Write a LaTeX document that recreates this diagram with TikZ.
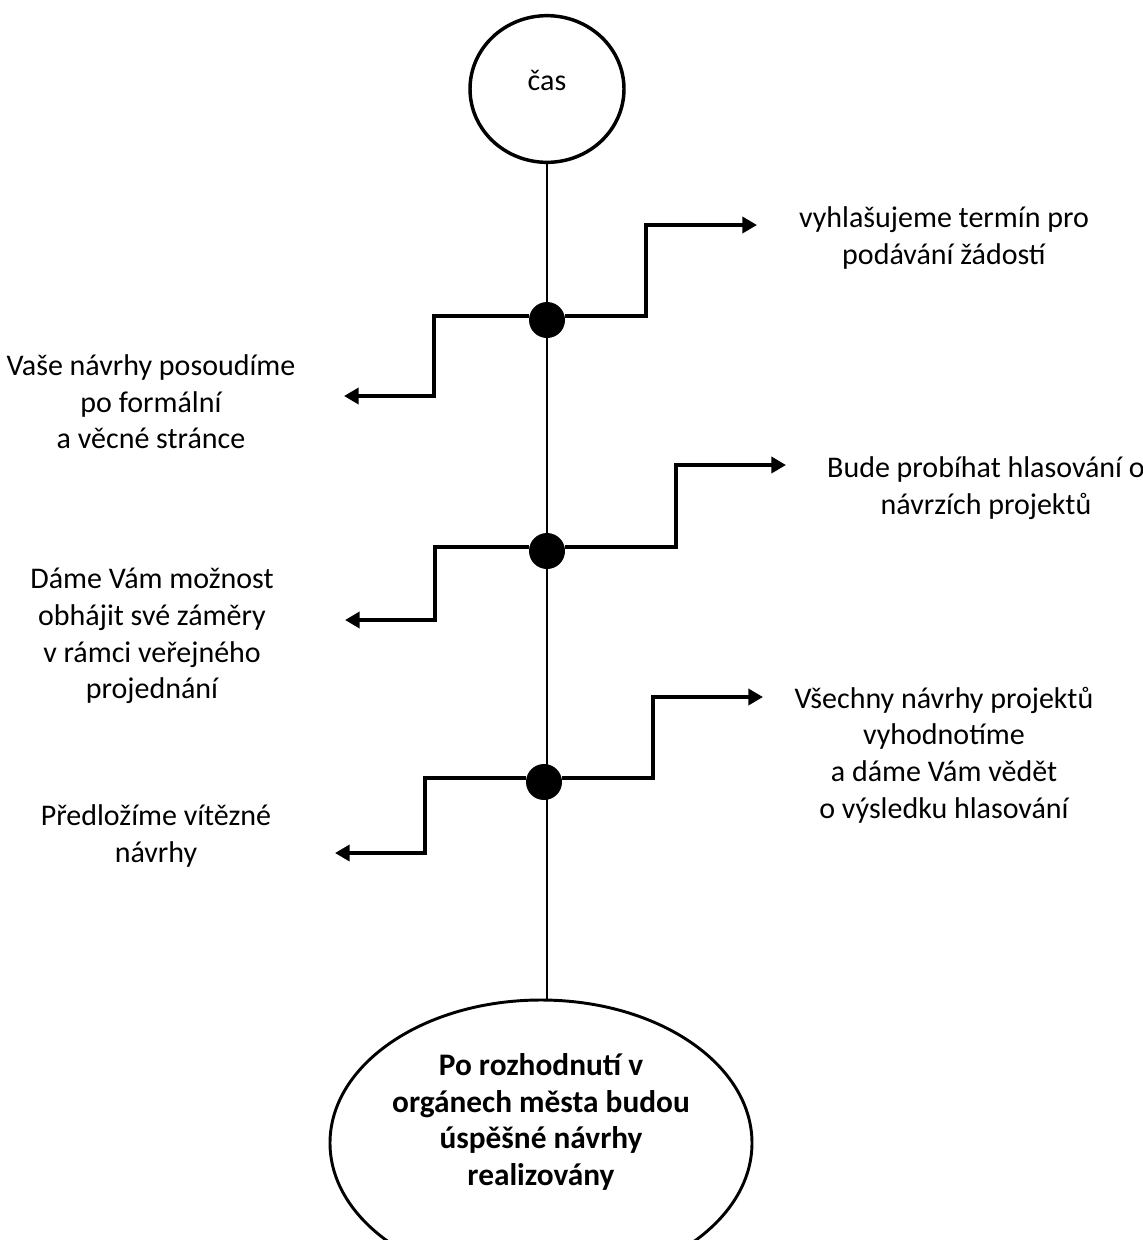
\documentclass[tikz,border=0pt]{standalone}
\usepackage{fontspec}
\setmainfont{Carlito}
\usetikzlibrary{arrows.meta, shapes.geometric}

\begin{document}
\begin{tikzpicture}[x=0.75pt, y=-0.75pt,
  every node/.style={align=center, font=\fontsize{22.5pt}{27.5pt}\selectfont},
  dot/.style={circle, fill=black, inner sep=0pt, minimum size=27pt},
  stepline/.style={line width=3pt, -{Triangle[length=11pt, width=12pt]}}]
\useasboundingbox (0,0) rectangle (1143,1240);
\node[draw, ellipse, line width=2.6pt, minimum width=115.5pt, minimum height=110pt,
  label={[yshift=6.75pt]center:čas}] (cas) at (547,89) {};
\node[draw, ellipse, line width=2.2pt, minimum width=316.5pt, minimum height=214.5pt,
  label={[yshift=15.75pt, font=\fontsize{23.5pt}{27.5pt}\selectfont\bfseries]center:Po rozhodnutí v\\orgánech města budou\\úspěšné návrhy\\realizovány}] (real) at (541,1143) {};
\draw[line width=1.6pt] (cas.south) -- (cas.south |- real.north);
\node[dot] (d1) at (547,320) {};
\node[dot] (d2) at (547,551) {};
\node[dot] (d3) at (544,782) {};
% konce a lomy sipek
\coordinate (b1) at (646,225); \coordinate (a1) at (757,225);
\coordinate (c1) at (434,396); \coordinate (e1) at (344,396);
\coordinate (b2) at (676,465); \coordinate (a2) at (786,465);
\coordinate (c2) at (435,620); \coordinate (e2) at (345,620);
\coordinate (b3) at (653,697); \coordinate (a3) at (763,697);
\coordinate (c3) at (425,853); \coordinate (e3) at (335,853);
\node (t1) at (944,238) {vyhlašujeme termín pro\\podávání žádostí};
\node (t2) at (151,402) {Vaše návrhy posoudíme\\po formální\\a věcné stránce};
\node (t3) at (986,488) {Bude probíhat hlasování o\\návrzích projektů};
\node (t4) at (152,636) {Dáme Vám možnost\\obhájit své záměry\\v rámci veřejného\\projednání};
\node (t5) at (944,755) {Všechny návrhy projektů\\vyhodnotíme\\a dáme Vám vědět\\o výsledku hlasování};
\node (t6) at (156,836) {Předložíme vítězné\\návrhy};
\draw[stepline] ([yshift=3pt]d1.east) -| (b1) -- (a1);
\draw[stepline] ([yshift=3pt]d1.west) -| (c1) -- (e1);
\draw[stepline] ([yshift=3pt]d2.east) -| (b2) -- (a2);
\draw[stepline] ([yshift=3pt]d2.west) -| (c2) -- (e2);
\draw[stepline] ([yshift=3pt]d3.east) -| (b3) -- (a3);
\draw[stepline] ([yshift=3pt]d3.west) -| (c3) -- (e3);
\end{tikzpicture}
\end{document}
